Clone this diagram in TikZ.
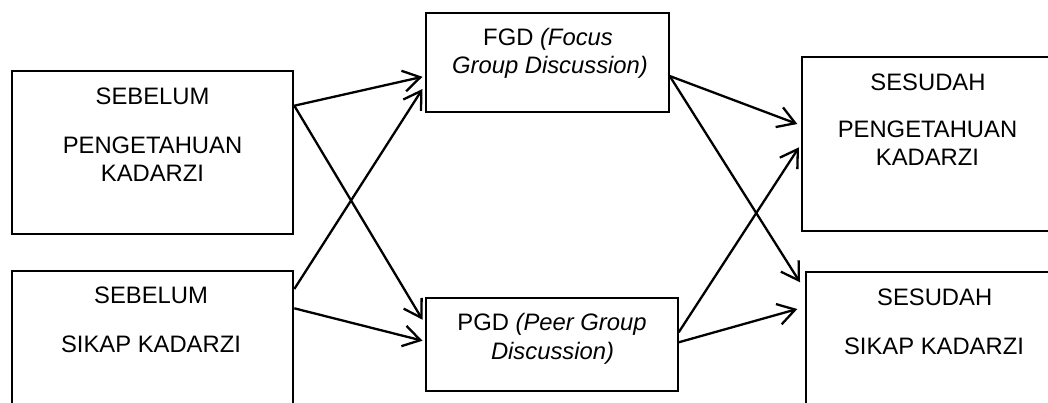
\documentclass[tikz,border=0pt]{standalone}
\usepackage{fontspec}
\setmainfont{Liberation Sans}
\usetikzlibrary{arrows.meta,calc}
\tikzset{
  box/.style={draw=black, line width=2pt, fill=none, inner sep=0pt},
  txt/.style={anchor=base, inner sep=0pt, font=\fontsize{23.8}{28}\selectfont},
  conn/.style={line width=2.3pt, -{Straight Barb[length=17pt,width=21pt]}}
}
\begin{document}
\begin{tikzpicture}[x=1pt,y=-1pt]
\fill[white] (0,0) rectangle (1048,402);
\useasboundingbox (0,0) rectangle (1048,402);
\clip (0,0) rectangle (1048,402);
% boxes
\node[box, minimum width=281.6pt, minimum height=163.3pt] (b1) at (152.5,152.35) {};
\node[box, minimum width=281.6pt, minimum height=163.3pt] (b2) at (152.5,352.35) {};
\node[box, minimum width=242.7pt, minimum height=98.4pt] (fgd) at (547.35,62.5) {};
\node[box, minimum width=251.7pt, minimum height=93pt] (pgd) at (551.85,344.2) {};
\node[box, minimum width=251.7pt, minimum height=174pt] (s1) at (928.15,143.7) {};
\node[box, minimum width=257pt, minimum height=174pt] (s2) at (934.5,359) {};
% texts
\node[txt] (b1a) at (152.5,104.3) {SEBELUM};
\node[txt] (b1b) at (152.5,153.3) {PENGETAHUAN};
\node[txt] (b1c) at (152.5,181) {KADARZI};
\node[txt] (b2a) at (151,303.3) {SEBELUM};
\node[txt] (b2b) at (151,352.7) {SIKAP KADARZI};
\node[txt] (fa) at (548,45) {FGD \textit{(Focus}};
\node[txt] (fb) at (550,73.3) {\textit{Group Discussion)}};
\node[txt] (pa) at (552,330) {PGD \textit{(Peer Group}};
\node[txt] (pb) at (552.5,359.3) {\textit{Discussion)}};
\node[txt] (s1a) at (928,90) {SESUDAH};
\node[txt] (s1b) at (927.5,137.3) {PENGETAHUAN};
\node[txt] (s1c) at (927.5,165.7) {KADARZI};
\node[txt] (s2a) at (934.7,305) {SESUDAH};
\node[txt] (s2b) at (934,354) {SIKAP KADARZI};
% connectors
\draw[conn] ($(b1.north east)+(0,36)$) -- ($(fgd.north west)+(-2.5,64.5)$);
\draw[conn] ($(b2.north east)+(0,19.3)$) -- ($(fgd.north west)+(-2.5,76.7)$);
\draw[conn] ($(b1.north east)+(0,36)$) -- ($(pgd.north west)+(-2.5,23)$);
\draw[conn] ($(b2.north east)+(0,38.6)$) -- ($(pgd.north west)+(-2.5,44)$);
\draw[conn] ($(fgd.north east)+(0,63.7)$) -- ($(s1.north west)+(-4,68.3)$);
\draw[conn] ($(fgd.north east)+(0,63.7)$) -- ($(s2.north west)+(-5,11.3)$);
\draw[conn] ($(pgd.north east)+(0,35.6)$) -- ($(s1.north west)+(-2.3,91.6)$);
\draw[conn] ($(pgd.north east)+(0,45.6)$) -- ($(s2.north west)+(-7.7,38)$);
\end{tikzpicture}
\end{document}
